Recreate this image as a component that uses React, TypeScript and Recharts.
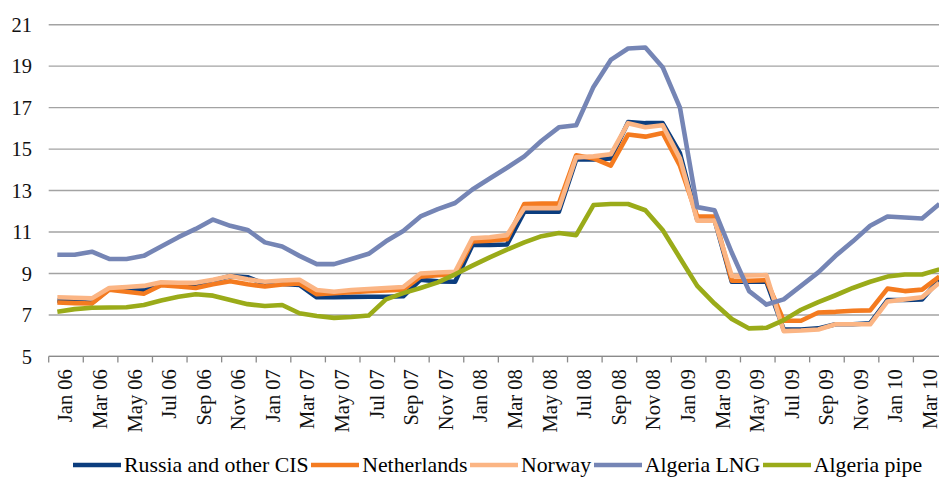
import React from 'react';
import { ComposedChart, Line, XAxis, YAxis, CartesianGrid, Legend } from 'recharts';

const months = [
  'Jan 06', 'Feb 06', 'Mar 06', 'Apr 06', 'May 06', 'Jun 06', 'Jul 06', 'Aug 06', 'Sep 06', 'Oct 06', 'Nov 06', 'Dec 06',
  'Jan 07', 'Feb 07', 'Mar 07', 'Apr 07', 'May 07', 'Jun 07', 'Jul 07', 'Aug 07', 'Sep 07', 'Oct 07', 'Nov 07', 'Dec 07',
  'Jan 08', 'Feb 08', 'Mar 08', 'Apr 08', 'May 08', 'Jun 08', 'Jul 08', 'Aug 08', 'Sep 08', 'Oct 08', 'Nov 08', 'Dec 08',
  'Jan 09', 'Feb 09', 'Mar 09', 'Apr 09', 'May 09', 'Jun 09', 'Jul 09', 'Aug 09', 'Sep 09', 'Oct 09', 'Nov 09', 'Dec 09',
  'Jan 10', 'Feb 10', 'Mar 10', 'Apr 10',
];

const russia = [
  7.7, 7.65, 7.58, 8.25, 8.25, 8.2, 8.5, 8.5, 8.45, 8.65, 8.88, 8.82,
  8.5, 8.5, 8.45, 7.85, 7.85, 7.87, 7.88, 7.88, 7.9, 8.7, 8.62, 8.6,
  10.37, 10.37, 10.4, 11.98, 11.98, 11.98, 14.5, 14.5, 14.55, 16.3, 16.25, 16.25,
  14.8, 11.6, 11.6, 8.6, 8.6, 8.6, 6.3, 6.3, 6.35, 6.55, 6.55, 6.6,
  7.72, 7.72, 7.75, 8.7,
];

const netherlands = [
  7.6, 7.57, 7.55, 8.22, 8.12, 8.02, 8.43, 8.37, 8.3, 8.48, 8.63, 8.48,
  8.37, 8.47, 8.52, 8.0, 8.05, 8.1, 8.15, 8.18, 8.22, 8.85, 8.92, 8.95,
  10.55, 10.58, 10.65, 12.35, 12.37, 12.37, 14.7, 14.55, 14.2, 15.7, 15.6, 15.78,
  14.2, 11.75, 11.75, 8.65, 8.65, 8.68, 6.72, 6.72, 7.12, 7.15, 7.2, 7.22,
  8.27, 8.15, 8.22, 8.85,
];

const norway = [
  7.85, 7.83, 7.8, 8.3, 8.35, 8.4, 8.58, 8.55, 8.55, 8.7, 8.88, 8.72,
  8.6, 8.66, 8.7, 8.2, 8.12, 8.2, 8.25, 8.3, 8.35, 9.0, 9.05, 9.08,
  10.7, 10.75, 10.85, 12.15, 12.15, 12.15, 14.6, 14.65, 14.75, 16.25, 16.05, 16.15,
  14.55, 11.55, 11.55, 8.88, 8.9, 8.92, 6.22, 6.25, 6.3, 6.55, 6.55, 6.55,
  7.65, 7.75, 7.85, 8.55,
];

const algeriaLng = [
  9.9, 9.9, 10.05, 9.7, 9.7, 9.85, 10.3, 10.75, 11.15, 11.6, 11.3, 11.1,
  10.5, 10.3, 9.85, 9.45, 9.45, 9.7, 9.95, 10.55, 11.05, 11.75, 12.1, 12.4,
  13.05, 13.58, 14.1, 14.65, 15.4, 16.05, 16.15, 18.0, 19.3, 19.85, 19.9, 18.95,
  17.0, 12.2, 12.05, 10.0, 8.15, 7.5, 7.75, 8.4, 9.05, 9.85, 10.55, 11.3,
  11.75, 11.7, 11.65, 12.35,
];

const algeriaPipe = [
  7.15, 7.28, 7.35, 7.36, 7.37, 7.48, 7.7, 7.88, 8.0, 7.93, 7.72, 7.52,
  7.43, 7.48, 7.08, 6.95, 6.86, 6.9, 6.97, 7.75, 8.05, 8.3, 8.57, 8.96,
  9.38, 9.78, 10.15, 10.5, 10.8, 10.95, 10.85, 12.3, 12.35, 12.35, 12.05, 11.1,
  9.75, 8.4, 7.55, 6.8, 6.35, 6.38, 6.75, 7.25, 7.62, 7.95, 8.3, 8.6,
  8.85, 8.95, 8.95, 9.2,
];

const seriesNames = ['Russia and other CIS', 'Netherlands', 'Norway', 'Algeria LNG', 'Algeria pipe'];
const seriesKeys = ['russia', 'netherlands', 'norway', 'algeriaLng', 'algeriaPipe'];
const seriesValues = [russia, netherlands, norway, algeriaLng, algeriaPipe];
const yTicks = [5, 7, 9, 11, 13, 15, 17, 19, 21];

const COLORS = ['#0b3d7e', '#f47b20', '#fbb584', '#7585b5', '#9aab19'];

const data = months.map((m, i) => {
  const row: Record<string, any> = { m };
  seriesKeys.forEach((k, s) => {
    row[k] = seriesValues[s][i];
  });
  return row;
});

const FONT = '"Liberation Serif", "Times New Roman", Times, serif';
const W = 960;
const H = 479;
const MARGIN = { top: 24.7, right: 12, bottom: 22.6, left: 0.7 };
const Y_AXIS_W = 48;
const PLOT_W = W - MARGIN.left - MARGIN.right - Y_AXIS_W;
const BW = PLOT_W / months.length;

const XTick = (props: any) => {
  const { x, y, payload } = props;
  const tickX = x - BW / 2;
  const bx = x + 15;
  const ty = y + 12.8;
  return (
    <g>
      <line x1={tickX} y1={y} x2={tickX} y2={y + 6} stroke="#8a8a8a" strokeWidth={1.3} />
      <text
        x={bx}
        y={ty}
        transform={`rotate(-90 ${bx} ${ty})`}
        textAnchor="end"
        fontSize={20.5}
        fontFamily={FONT}
        fill="#111"
      >
        {payload.value}
      </text>
    </g>
  );
};

const LegendContent = () => (
  <div
    style={{
      display: 'flex',
      alignItems: 'center',
      paddingLeft: 73,
      fontFamily: FONT,
      fontSize: 21.8,
      color: '#000',
      whiteSpace: 'nowrap',
    }}
  >
    {seriesNames.map((name, s) => (
      <div key={name} style={{ display: 'flex', alignItems: 'center', marginRight: 2.5 }}>
        <svg width={48} height={24} style={{ display: 'block' }}>
          <line x1={0} y1={12} x2={48} y2={12} stroke={COLORS[s]} strokeWidth={4.5} />
        </svg>
        <span style={{ marginLeft: 3, lineHeight: '24px' }}>{name}</span>
      </div>
    ))}
  </div>
);

export default function App() {
  return (
    <div
      style={{
        position: 'absolute',
        left: 0,
        top: 0,
        width: 939,
        height: 479,
        overflow: 'hidden',
        background: '#fff',
      }}
    >
      <ComposedChart width={W} height={H} data={data} margin={MARGIN}>
        <CartesianGrid vertical={false} stroke="#a3a3a3" strokeWidth={1.4} />
        <XAxis
          dataKey="m"
          type="category"
          scale="point"
          padding={{ left: BW / 2, right: BW / 2 }}
          interval={1}
          tickLine={false}
          tickSize={0}
          tickMargin={0}
          height={100}
          axisLine={{ stroke: '#8a8a8a', strokeWidth: 1.4 }}
          tick={<XTick />}
        />
        <YAxis
          width={Y_AXIS_W}
          domain={[5, 21]}
          ticks={yTicks}
          interval={0}
          axisLine={false}
          tickLine={false}
          tickSize={0}
          tickMargin={16.7}
          tick={{ fontSize: 20.5, fontFamily: FONT, fill: '#111' }}
        />
        {seriesKeys.map((k, s) => (
          <Line
            key={k}
            type="linear"
            dataKey={k}
            name={seriesNames[s]}
            stroke={COLORS[s]}
            strokeWidth={4.6}
            strokeLinejoin="round"
            dot={false}
            activeDot={false}
            isAnimationActive={false}
          />
        ))}
        <Legend
          verticalAlign="middle"
          align="center"
          layout="horizontal"
          wrapperStyle={{ position: 'absolute', left: 0, top: 453, width: 939, height: 24 }}
          content={<LegendContent />}
        />
      </ComposedChart>
    </div>
  );
}
